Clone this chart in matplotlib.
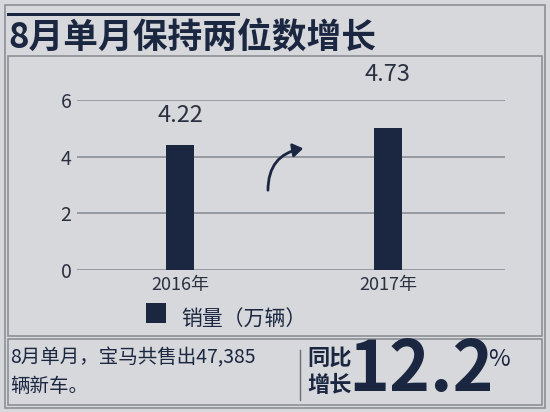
import matplotlib.pyplot as plt
from matplotlib.patches import Rectangle, FancyArrowPatch

plt.rcParams['font.family'] = ['Noto Sans CJK SC', 'DejaVu Sans']

years = ['2016年', '2017年']
bar_heights = [4.4, 5.0]      # drawn heights
value_labels = ['4.22', '4.73']
yticks = [0, 2, 4, 6]

navy = '#1b2740'
bg = '#d6d8dc'
W, H = 550, 412

fig = plt.figure(figsize=(5.5, 4.12), dpi=100, facecolor=bg)

def px(x, y):
    return x / W, 1 - y / H

# frames
for (x0, y0, x1, y1) in [(5, 5, 545, 408), (8, 56, 542, 336), (8, 339, 542, 405)]:
    a, b = px(x0, y1)
    fig.add_artist(Rectangle((a, b), (x1 - x0) / W, (y1 - y0) / H, transform=fig.transFigure,
                             fill=False, ec='#8c9096', lw=1.2))
a, b = px(7, 16)
fig.add_artist(Rectangle((a, b), 233 / W, 3 / H, transform=fig.transFigure, color=navy, lw=0))
fig.text(*px(8, 37), '8月单月保持两位数增长', fontsize=25, fontweight='bold', color=navy, va='center')

ax = fig.add_axes([77 / W, 1 - 270 / H, 428 / W, 170 / H])
ax.set_facecolor(bg)
x = range(len(years))
ax.bar(x, bar_heights, width=0.135, color=navy, zorder=3)
ax.set_xlim(-0.495, 1.563)
ax.set_ylim(0, 6)
ax.set_yticks(yticks)
ax.grid(axis='y', color='#8a8f96', lw=1.2)
for s in ax.spines.values():
    s.set_visible(False)
ax.tick_params(length=0, labelsize=14, labelcolor='#2a3040', pad=4)
ax.set_xticks(list(x))
ax.set_xticklabels(years, fontsize=13)
label_y = [5.45, 6.9]
for i, (lbl, ly) in enumerate(zip(value_labels, label_y)):
    ax.text(i, ly, lbl, ha='center', va='center', fontsize=17, color='#2a3040', clip_on=False)

# curved arrow
fig.add_artist(FancyArrowPatch(px(268, 193), px(306, 148), transform=fig.transFigure,
                               connectionstyle='arc3,rad=-0.45', arrowstyle='-|>,head_width=4,head_length=6',
                               color=navy, lw=2))

# legend
a, b = px(146, 323)
fig.add_artist(Rectangle((a, b), 20 / W, 20 / H, transform=fig.transFigure, color=navy, lw=0))
fig.text(*px(181, 320), '销量（万辆）', fontsize=15, color=navy, va='center')

# bottom box
fig.text(*px(10, 358), '8月单月，宝马共售出47,385', fontsize=14, color=navy, va='center')
fig.text(*px(10, 386), '辆新车。', fontsize=14, color=navy, va='center')
fig.add_artist(plt.Line2D([300 / W] * 2, [1 - 350 / H, 1 - 400 / H], transform=fig.transFigure, color='#6a6f78', lw=1))
fig.text(*px(307, 358), '同比', fontsize=16, fontweight='bold', color=navy, va='center')
fig.text(*px(307, 385), '增长', fontsize=16, fontweight='bold', color=navy, va='center')
fig.text(*px(348, 371), '12.2', fontsize=50, fontweight='bold', color=navy, va='center')
fig.text(*px(488, 360), '%', fontsize=17, color=navy, va='center')

fig.savefig('out.png', dpi=100, facecolor=bg)
